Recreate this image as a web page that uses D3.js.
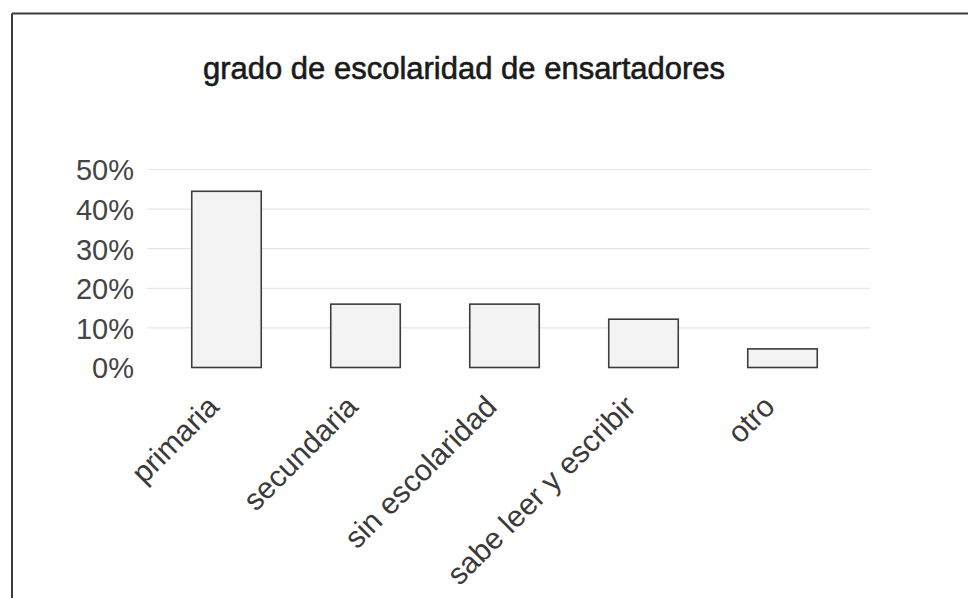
<!DOCTYPE html>
<html>
<head>
<meta charset="utf-8">
<script src="https://cdn.jsdelivr.net/npm/d3@7"></script>
<style>
  html, body { margin: 0; padding: 0; background: #fff; }
  svg { display: block; }
</style>
</head>
<body>
<svg id="chart" width="968" height="598"></svg>
<script>
const title = "grado de escolaridad de ensartadores";
const categories = ["primaria", "secundaria", "sin escolaridad", "sabe leer y escribir", "otro"];
const values = [0.445, 0.16, 0.16, 0.122, 0.047];
const yTicks = [0, 0.1, 0.2, 0.3, 0.4, 0.5];

const svg = d3.select("#chart");
const W = 968, H = 598;

// frame
svg.append("line").attr("x1", 12).attr("x2", W).attr("y1", 13.5).attr("y2", 13.5)
  .attr("stroke", "#3a3a3a").attr("stroke-width", 2);
svg.append("line").attr("x1", 12).attr("x2", 12).attr("y1", 13.5).attr("y2", H)
  .attr("stroke", "#3a3a3a").attr("stroke-width", 2);

// title
svg.append("text")
  .attr("x", 464).attr("y", 79)
  .attr("text-anchor", "middle")
  .attr("font-family", "Liberation Sans, Arial, sans-serif")
  .attr("font-size", 31)
  .attr("fill", "#1a1a1a")
  .attr("stroke", "#1a1a1a").attr("stroke-width", 0.6)
  .text(title);

const x = d3.scaleBand().domain(categories).range([157, 852]).paddingInner(0.5).paddingOuter(0.25);
const y = d3.scaleLinear().domain([0, 0.5]).range([367.5, 169.5]);

// gridlines
svg.append("g").selectAll("line").data(yTicks.filter(d => d > 0)).join("line")
  .attr("x1", 147).attr("x2", 870)
  .attr("y1", d => y(d)).attr("y2", d => y(d))
  .attr("stroke", "#e6e6e6").attr("stroke-width", 1.2);

// y axis
const yAxis = svg.append("g").attr("transform", "translate(134,0)")
  .call(d3.axisLeft(y).tickValues(yTicks).tickFormat(d3.format(".0%")).tickSize(0).tickPadding(0));
yAxis.select(".domain").remove();
yAxis.selectAll("text")
  .attr("font-family", "Liberation Sans, Arial, sans-serif")
  .attr("font-size", 29)
  .attr("fill", "#444")
  .attr("dy", "0.36em");

// bars
svg.append("g").selectAll("rect").data(categories).join("rect")
  .attr("x", d => x(d))
  .attr("y", (d, i) => y(values[i]))
  .attr("width", x.bandwidth())
  .attr("height", (d, i) => y(0) - y(values[i]))
  .attr("fill", "#f3f3f3")
  .attr("stroke", "#3c3c3c")
  .attr("stroke-width", 1.6);

// x axis labels
const xAxis = svg.append("g").attr("transform", `translate(0,${y(0)})`)
  .call(d3.axisBottom(x).tickSize(0).tickPadding(0));
xAxis.select(".domain").remove();
xAxis.selectAll(".tick text")
  .attr("font-family", "Liberation Sans, Arial, sans-serif")
  .attr("font-size", 30)
  .attr("fill", "#3a3a3a")
  .attr("text-anchor", "end")
  .attr("y", 0).attr("dy", 0)
  .attr("transform", "translate(-6,41) rotate(-45)");
</script>
</body>
</html>
